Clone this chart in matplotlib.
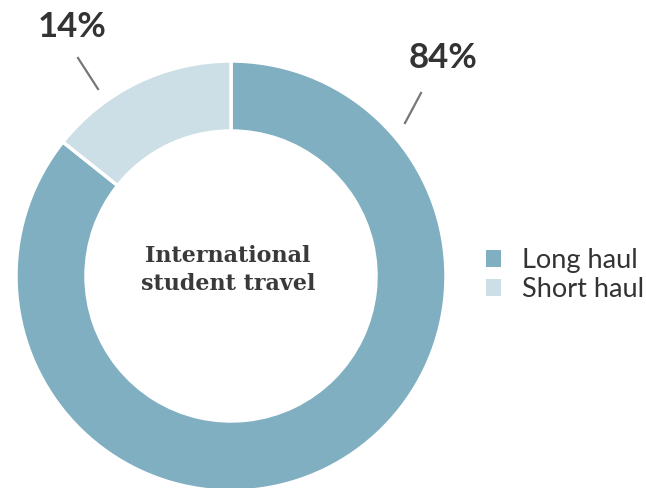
import matplotlib.pyplot as plt
from matplotlib.patches import Patch

# share of international student trips
categories = ['Long haul', 'Short haul']
shares = [84, 14]
colors = ['#80afc1', '#cddfe6']

W, H = 646, 488

fig = plt.figure(figsize=(W / 100, H / 100), dpi=100)
ax = fig.add_axes([0, 0, 1, 1])
ax.set_xlim(0, W)
ax.set_ylim(0, H)
ax.axis('off')

# donut, going clockwise from 12 o'clock
ax.pie(shares, colors=colors, startangle=90, counterclock=False,
       center=(231, H - 276), radius=215,
       wedgeprops=dict(width=70, edgecolor='white', linewidth=2.5))
ax.set_xlim(0, W)
ax.set_ylim(0, H)
ax.set_aspect('equal')

# percentage labels with short leader lines
ax.plot([405, 421], [H - 123, H - 93], color='#777777', lw=1.6)
ax.text(443, H - 58, f'{shares[0]}%', ha='center', va='center',
        fontsize=25, fontfamily='Lato', fontweight='bold', color='#333333')
ax.plot([78, 98], [H - 58, H - 89], color='#777777', lw=1.6)
ax.text(72, H - 27, f'{shares[1]}%', ha='center', va='center',
        fontsize=25, fontfamily='Lato', fontweight='bold', color='#333333')

# centre caption
ax.text(228, H - 270, 'International\nstudent travel', ha='center', va='center',
        fontsize=16, fontfamily='DejaVu Serif', fontweight='bold', color='#3a3a3a',
        linespacing=1.3)

handles = [Patch(facecolor=c, edgecolor='none') for c in colors]
leg = ax.legend(handles, categories, loc='center left', bbox_to_anchor=(462 / W, 1 - 275 / H),
                frameon=False, prop={'family': 'Lato', 'size': 19.5},
                handlelength=0.55, handleheight=0.55, handletextpad=0.75, labelspacing=0.15)
for t in leg.get_texts():
    t.set_color('#333333')

fig.savefig('out.png', dpi=100, facecolor='white')
